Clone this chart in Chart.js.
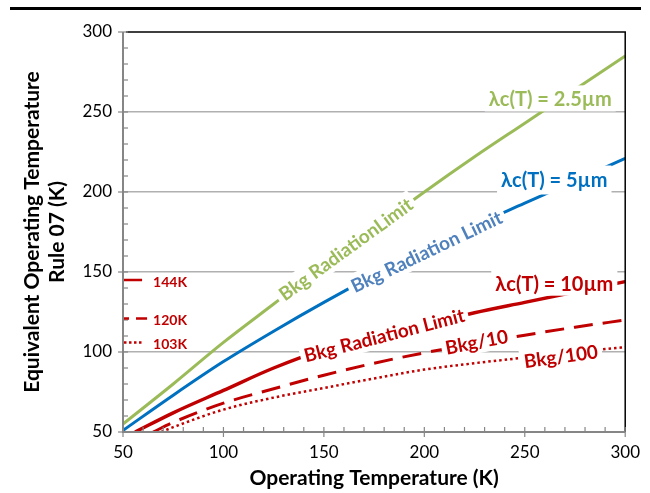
<!DOCTYPE html>
<html>
<head>
<meta charset="utf-8">
<script src="https://cdn.jsdelivr.net/npm/chart.js@4.4.0/dist/chart.umd.min.js"></script>
<style>
  html, body { margin: 0; padding: 0; background: #fff; }
  #wrap { position: relative; width: 650px; height: 493px; }
  #rule { position: absolute; left: 10px; top: 7px; width: 631px; height: 3px; background: #000; }
  canvas { position: absolute; left: 0; top: 0; }
</style>
</head>
<body>
<div id="wrap">
  <div id="rule"></div>
  <canvas id="chart" width="650" height="493"></canvas>
</div>
<script>
// operating temperature (K) for each curve
const tempsGreen = [50, 75, 100, 125, 150, 175, 200, 225, 250, 275, 300];
const tempsBlue = [50, 75, 100, 125, 150, 175, 200, 225, 250, 275, 300];
const tempsRed = [56, 75, 100, 125, 150, 175, 200, 225, 250, 275, 300];
const tempsRed10 = [65, 75, 100, 125, 150, 175, 200, 225, 250, 275, 300];
const tempsRed100 = [69, 75, 100, 125, 150, 175, 200, 225, 250, 275, 300];

// equivalent operating temperature (K), Rule 07
const green25 = [55, 80, 106, 130, 154, 177, 200, 222, 243, 264, 285];
const blue5 = [51, 73, 94, 113, 131, 148, 164, 179, 193, 207, 221];
const red10 = [50, 62, 76, 90, 101.5, 109.5, 117, 124.5, 131, 137.5, 144];
const red10bkg10 = [50, 56, 68, 77, 85.5, 93, 99.5, 105, 110.5, 115.5, 120];
const red10bkg100 = [50, 53, 64, 71.5, 77.5, 83.5, 89, 93, 96.5, 100, 103];

const yTicks = [50, 100, 150, 200, 250, 300];
const xTicks = [50, 100, 150, 200, 250, 300];

const GREEN = '#9BBB59';
const BLUE = '#0070C0';
const STEEL = '#4F81BD';
const RED = '#C00000';
const AXIS = '#868686';
const FONT = 'Lato';

function pts(xs, ys) {
  return xs.map((t, i) => ({ x: t, y: ys[i] }));
}

function tag(ctx, text, px, py, deg, color, size, boxH) {
  ctx.save();
  ctx.translate(px, py);
  ctx.rotate(-deg * Math.PI / 180);
  ctx.font = 'bold ' + size + 'px ' + FONT;
  const w = ctx.measureText(text).width;
  const h = boxH || size * 1.25;
  ctx.fillStyle = '#fff';
  ctx.fillRect(-w / 2 - 4, -h / 2, w + 8, h);
  ctx.fillStyle = color;
  ctx.textAlign = 'center';
  ctx.textBaseline = 'middle';
  ctx.fillText(text, 0, 1);
  ctx.restore();
}

const decor = {
  id: 'decor',
  afterDatasetsDraw(chart) {
    const { ctx, chartArea: a, scales: { x, y } } = chart;
    ctx.save();

    // top/right frame
    ctx.strokeStyle = '#000';
    ctx.lineWidth = 1.5;
    ctx.beginPath();
    ctx.moveTo(a.left + 3, a.top);
    ctx.lineTo(a.right, a.top);
    ctx.lineTo(a.right, a.bottom);
    ctx.stroke();

    // axes
    ctx.strokeStyle = AXIS;
    ctx.lineWidth = 2;
    ctx.beginPath();
    ctx.moveTo(a.left, a.top);
    ctx.lineTo(a.left, a.bottom);
    ctx.lineTo(a.right, a.bottom);
    ctx.stroke();

    // major + minor ticks
    ctx.lineWidth = 1.2;
    for (let v = 50; v <= 300; v += 10) {
      const major = v % 50 === 0;
      const px = x.getPixelForValue(v);
      ctx.beginPath();
      ctx.moveTo(px, a.bottom + (major ? 5 : 0));
      ctx.lineTo(px, a.bottom - 5);
      ctx.stroke();
      const py = y.getPixelForValue(v);
      ctx.beginPath();
      ctx.moveTo(a.left - (major ? 5 : 0), py);
      ctx.lineTo(a.left + 5, py);
      ctx.stroke();
    }

    // little key on the left
    const x0 = x.getPixelForValue(50);
    const x1 = x.getPixelForValue(59.5);
    ctx.strokeStyle = RED;
    ctx.lineWidth = 2.5;
    const keys = [[145, [], '144K'], [121, [12, 7], '120K'], [106, [2.5, 2.5], '103K']];
    keys.forEach(([v, dash, label]) => {
      const py = y.getPixelForValue(v);
      ctx.setLineDash(dash);
      ctx.lineDashOffset = dash.length && dash[0] > 5 ? 7 : 0;
      ctx.beginPath();
      ctx.moveTo(x0 + 1, py);
      ctx.lineTo(x1 + (dash[0] > 5 ? 5 : 0), py);
      ctx.stroke();
      ctx.setLineDash([]);
      ctx.fillStyle = RED;
      ctx.font = 'bold 14px ' + FONT;
      ctx.textAlign = 'left';
      ctx.textBaseline = 'middle';
      ctx.fillText(label, x1 + 11, py + 2);
    });

    const at = (t, v) => [x.getPixelForValue(t), y.getPixelForValue(v)];
    tag(ctx, 'λc(T) = 2.5µm', ...at(262.7, 258.5), 0, GREEN, 20, 26);
    tag(ctx, 'λc(T) = 5µm', ...at(264.7, 207.5), 0, BLUE, 20, 29);
    tag(ctx, 'λc(T) = 10µm', ...at(264.7, 143), 0, RED, 20, 25);
    tag(ctx, 'Bkg RadiationLimit', ...at(160.8, 164.4), 36, GREEN, 19);
    tag(ctx, 'Bkg Radiation Limit', ...at(201, 163), 25.5, STEEL, 19);
    tag(ctx, 'Bkg Radiation Limit', ...at(180, 110.6), 14.5, RED, 19);
    tag(ctx, 'Bkg/10', ...at(226, 106.5), 11, RED, 19);
    tag(ctx, 'Bkg/100', ...at(268, 97.5), 8, RED, 19);

    ctx.restore();
  }
};

new Chart(document.getElementById('chart'), {
  type: 'line',
  data: {
    datasets: [
      { data: pts(tempsGreen, green25), borderColor: GREEN, borderWidth: 3 },
      { data: pts(tempsBlue, blue5), borderColor: BLUE, borderWidth: 3 },
      { data: pts(tempsRed, red10), borderColor: RED, borderWidth: 3.5 },
      { data: pts(tempsRed10, red10bkg10), borderColor: RED, borderWidth: 3, borderDash: [19, 10] },
      { data: pts(tempsRed100, red10bkg100), borderColor: RED, borderWidth: 2.5, borderDash: [2.5, 3] }
    ]
  },
  options: {
    responsive: false,
    animation: false,
    elements: { point: { radius: 0 }, line: { cubicInterpolationMode: 'monotone', fill: false } },
    layout: { padding: { top: 32, right: 24, left: 0, bottom: 0 } },
    plugins: { legend: { display: false }, tooltip: { enabled: false } },
    scales: {
      x: {
        type: 'linear',
        min: 50,
        max: 300,
        afterFit(s) { s.height = 61; },
        afterBuildTicks(s) { s.ticks = xTicks.map(v => ({ value: v })); },
        grid: { display: false, drawTicks: false },
        border: { display: false },
        ticks: { color: '#000', font: { family: FONT, size: 17 }, padding: 10 },
        title: {
          display: true,
          text: 'Operating Temperature (K)',
          color: '#000',
          font: { family: FONT, size: 21, weight: 'bold' },
          padding: { top: 0, bottom: 2 }
        }
      },
      y: {
        min: 50,
        max: 300,
        afterFit(s) { s.width = 123; },
        afterBuildTicks(s) { s.ticks = yTicks.map(v => ({ value: v })); },
        grid: {
          drawTicks: false,
          lineWidth: 1.5,
          color: c => (c.tick && c.tick.value > 50 && c.tick.value < 300) ? '#b0b0b0' : 'rgba(0,0,0,0)'
        },
        border: { display: false },
        ticks: { color: '#000', font: { family: FONT, size: 17 }, padding: 11 },
        title: {
          display: true,
          text: ['Equivalent Operating Temperature', 'Rule 07 (K)'],
          color: '#000',
          font: { family: FONT, size: 21, weight: 'bold', lineHeight: '25px' },
          padding: { top: 20, bottom: 0 }
        }
      }
    }
  },
  plugins: [decor]
});
</script>
</body>
</html>
